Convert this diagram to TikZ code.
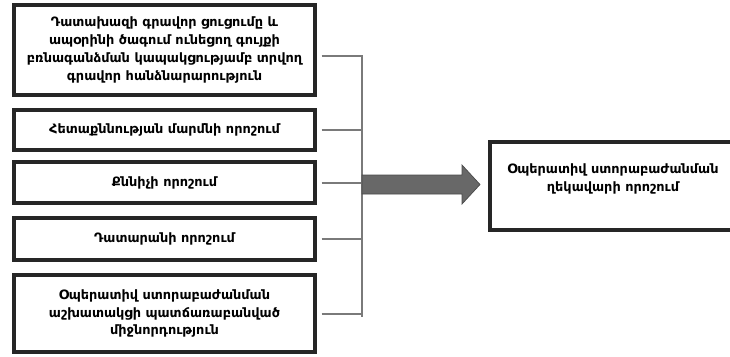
\documentclass[tikz,border=0pt]{standalone}
\usepackage{fontspec}
\setmainfont{DejaVu Sans}
\definecolor{boxgray}{HTML}{262626}
\definecolor{linegray}{HTML}{7A7A7A}
\definecolor{arrowgray}{HTML}{686868}
\definecolor{arrowedge}{HTML}{4A4A4A}

\begin{document}
\begin{tikzpicture}[x=0.03cm,y=-0.03cm,
    srcbox/.style={draw=boxgray,line width=3.4pt,fill=white,minimum width=9.03cm,
        inner sep=0pt,align=center,font=\bfseries\fontsize{11}{14.8}\selectfont},
    resbox/.style={draw=boxgray,line width=3.4pt,fill=white,minimum width=7.65cm,minimum height=2.64cm},
    link/.style={draw=linegray,line width=1.7pt}]
    % Fix the frame of the picture
    \useasboundingbox (0,0) rectangle (730,356);
    \clip (0,0) rectangle (730,356);
    % Draw the boxes on the left
    \node[srcbox,minimum height=2.7cm,font=\bfseries\fontsize{11}{15.4}\selectfont] (order) at (164.5,50)
        {Դատախազի գրավոր ցուցումը և\\ապօրինի ծագում ունեցող գույքի\\բռնագանձման կապակցությամբ տրվող\\գրավոր հանձնարարություն};
    \node[srcbox,minimum height=1.2cm] (inquiry) at (164.5,130) {Հետաքննության մարմնի որոշում};
    \node[srcbox,minimum height=1.23cm] (investigator) at (164.5,182.5) {Քննիչի որոշում};
    \node[srcbox,minimum height=1.26cm] (court) at (164.5,239) {Դատարանի որոշում};
    \node[srcbox,minimum height=2.31cm] (officer) at (164.5,313.5)
        {Օպերատիվ ստորաբաժանման\\աշխատակցի պատճառաբանված\\միջնորդություն};
    % Draw the box on the right
    \node[resbox] (head) at (617.5,186) {};
    \node[align=center,font=\bfseries\fontsize{11}{16}\selectfont] (headtext) at (613,179)
        {Օպերատիվ ստորաբաժանման\\ղեկավարի որոշում};
    % Draw the bus and its links
    \coordinate (bustop) at (362,55);
    \coordinate (busbot) at (362,317);
    \draw[link] ([xshift=4,yshift=-5]order.east) -- ([yshift=-5]order.east -| bustop) -- (busbot);
    \draw[link] ([xshift=4]officer.east) -- (officer.east -| busbot);
    \foreach \src in {inquiry,investigator,court}
        \draw[link] ([xshift=4]\src.east) -- (\src.east -| bustop);
    % Draw the big arrow
    \coordinate (tail) at (362,184.5);
    \coordinate (tip) at (480,184.5);
    \filldraw[fill=arrowgray,draw=arrowedge,line width=0.6pt]
        (tail) ++(0,-9.5) -- ++(100,0) -- ++(0,-10) -- (tip) -- ++(-18,19.5)
        -- ++(0,-10) -- ++(-100,0) -- cycle;
\end{tikzpicture}
\end{document}
